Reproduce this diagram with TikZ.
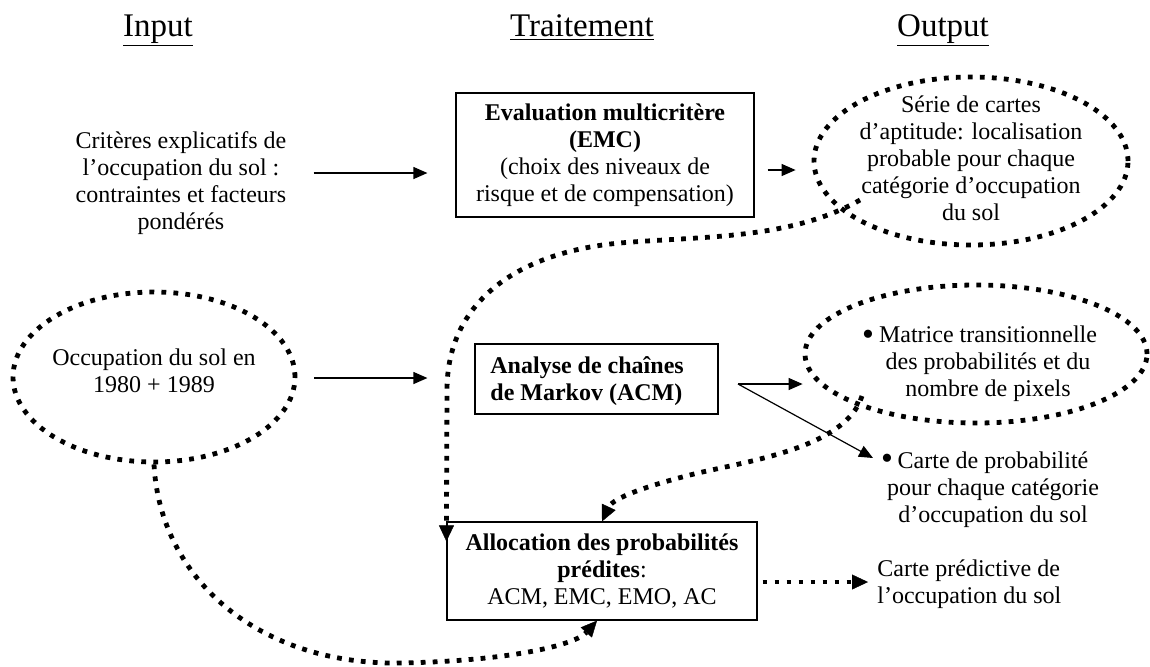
\documentclass[tikz,border=0pt]{standalone}
\usepackage{fontspec}
\setmainfont{Liberation Serif}
\usetikzlibrary{arrows.meta,shapes.geometric,calc}
\begin{document}
\begin{tikzpicture}[x=0.5pt,y=-0.5pt,
  txt/.style={font=\fontsize{12}{13.5}\selectfont, align=center, inner sep=0pt},
  bul/.style={font=\fontsize{17}{17}\selectfont, inner sep=0pt},
  ttl/.style={font=\fontsize{16.5}{18}\selectfont, anchor=base, inner sep=0pt},
  box/.style={draw, line width=0.6pt, inner sep=0pt, font=\fontsize{12}{13.5}\selectfont, align=center},
  dotl/.style={line width=2.4pt, dash pattern=on 2.4pt off 3.6pt},
  dellipse/.style={ellipse, draw, dotl, inner sep=0pt},
  arr/.style={line width=0.6pt, -{Triangle[length=7pt,width=6pt]}},
  darr/.style={dotl, -{Triangle[length=8pt,width=7.5pt,line width=0.2pt]}},
]
\useasboundingbox (0,0) rectangle (1150,666);
\fill[white] (0,0) rectangle (1150,666);

% titles
\node[ttl] (tin) at (158,36) {\underline{Input}};
\node[ttl] (ttr) at (582,36) {\underline{Traitement}};
\node[ttl] (tout) at (943,36) {\underline{Output}};

% row 1
\node[txt] (crit) at (181,183) {Critères explicatifs de\\l’occupation du sol :\\contraintes et facteurs\\pondérés};
\node[box, minimum width=149pt, minimum height=62pt] (emc) at (605,155)
  {\textbf{Evaluation multicritère}\\\textbf{(EMC)}\\(choix des niveaux de\\risque et de compensation)};
\node[dellipse, minimum width=157pt, minimum height=84pt] (e1) at (971,161) {};
\node[txt] (e1t) at (971,158) {Série de cartes\\d’aptitude: localisation\\probable pour chaque\\catégorie d’occupation\\du sol};

% row 2
\node[dellipse, minimum width=141pt, minimum height=85pt] (e2) at (154,377) {};
\node[txt] (e2t) at (154,371) {Occupation du sol en\\1980 + 1989};
\node[box, minimum width=121.5pt, minimum height=35pt] (acm) at (596.5,379) {};
\node[txt, align=left, anchor=west] (acmt) at (490,381)
  {\textbf{Analyse de chaînes}\\\textbf{de Markov (ACM)}};
\node[dellipse, minimum width=171pt, minimum height=69pt] (e3) at (976,354) {};
\node[bul] (b1) at (868,338) {•};
\node[txt] (e3t) at (988,364) {Matrice transitionnelle\\des probabilités et du\\nombre de pixels};
\node[bul] (b2) at (887,462) {•};
\node[txt] (cprob) at (993,490) {Carte de probabilité\\pour chaque catégorie\\d’occupation du sol};

% row 3
\node[box, minimum width=155pt, minimum height=49pt] (alloc) at (602,571)
  {\textbf{Allocation des probabilités}\\\textbf{prédites}:\\ACM, EMC, EMO, AC};
\node[txt, align=left, anchor=west] (cpred) at (877,584) {Carte prédictive de\\l’occupation du sol};

% helper coordinates
\coordinate (r1) at (0,173);
\coordinate (r1b) at (0,170);
\coordinate (r2) at (0,378);
\coordinate (sp) at (738,384);
\coordinate (r4) at (0,582);
\coordinate (c1s) at (860,200);
\coordinate (c3s) at (862,396);
\coordinate (tipb) at (873,458);

% solid arrows
\draw[arr, shorten <=13.5pt, shorten >=14pt] (crit.east |- r1) -- (emc.west |- r1);
\draw[arr, shorten <=6.5pt, shorten >=8pt] (emc.east |- r1b) -- (e1.west |- r1b);
\draw[arr, shorten <=8.5pt, shorten >=23.5pt] (e2.east |- r2) -- (acm.west |- r2);
\draw[arr] (sp) -- (e3.west |- sp);
\draw[arr] (sp) -- (tipb);

% dotted arrows
\draw[darr] (c1s) .. controls (790,240) and (700,236) .. (620,243)
  .. controls (520,252) and (447,300) .. (447,390) -- ($(alloc.north west)+(0,20)$);
\draw[darr] (c3s) .. controls (845,450) and (740,462) .. (690,475)
  .. controls (635,489) and (612,500) .. (alloc.north);
\draw[darr] (e2.south) .. controls (160,580) and (260,665) .. (400,663)
  .. controls (510,661) and (575,645) .. ($(alloc.south)+(-5,0)$);
\draw[darr, shorten <=2.5pt, shorten >=4.5pt] (alloc.east |- r4) -- (cpred.west |- r4);
\end{tikzpicture}
\end{document}
